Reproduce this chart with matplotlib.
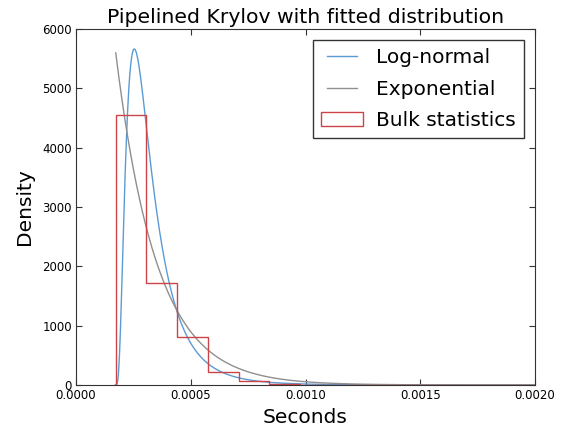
import numpy as np
import matplotlib
matplotlib.use("Agg")
import matplotlib.pyplot as plt

# histogram of iteration times (density), fixed-width bins
bin_start = 0.000173
bin_width = 0.000134
bin_density = [4551, 1714, 814, 224, 72, 17, 5, 5, 3, 0, 3, 0, 1, 3]

# fitted distribution parameters (scipy-style shape, loc, scale)
lognorm_s = 0.67
lognorm_loc = 0.00017
lognorm_scale = 0.0001316
expon_loc = 0.000173
expon_scale = 0.0001786

blue = "#5b9bd5"
grey = "#8f8f8f"
red = "#cc4348"

edges = bin_start + bin_width * np.arange(len(bin_density) + 1)

x = np.linspace(0.0, 0.002, 2000)
u = np.clip(x - lognorm_loc, 1e-12, None)
pdf_lognorm = np.where(
    x > lognorm_loc,
    np.exp(-np.log(u / lognorm_scale) ** 2 / (2 * lognorm_s ** 2)) / (lognorm_s * u * np.sqrt(2 * np.pi)),
    np.nan,
)
xe = x[x >= expon_loc]
pdf_expon = np.exp(-(xe - expon_loc) / expon_scale) / expon_scale

fig = plt.figure(figsize=(5.64, 4.32), dpi=100)
ax = fig.add_axes([0.1348, 0.1088, 0.8138, 0.8241])

ax.plot(x, pdf_lognorm, color=blue, lw=1.0, label="Log-normal")
ax.plot(xe, pdf_expon, color=grey, lw=1.0, label="Exponential")
ax.hist(edges[:-1], bins=edges, weights=bin_density, histtype="step",
        color=red, lw=1.0, label="Bulk statistics")

ax.set_xlim(0, 0.002)
ax.set_ylim(0, 6000)
ax.set_xticks([0.0, 0.0005, 0.001, 0.0015, 0.002])
ax.set_xticklabels(["0.0000", "0.0005", "0.0010", "0.0015", "0.0020"])
ax.set_yticks(range(0, 6001, 1000))
ax.tick_params(direction="in", top=True, right=True, labelsize=8.5, length=4,
               color="#333333", pad=3)
for s in ax.spines.values():
    s.set_color("#333333")

ax.set_title("Pipelined Krylov with fitted distribution", fontsize=14.7, pad=4)
ax.set_xlabel("Seconds", fontsize=14.5, labelpad=4)
ax.set_ylabel("Density", fontsize=14.5, labelpad=6)

leg = ax.legend(loc="upper right", fontsize=14.5, fancybox=False, numpoints=2,
                handlelength=2.1, handletextpad=0.65, borderpad=0.4,
                labelspacing=0.62, borderaxespad=0.55, frameon=True)
leg.get_frame().set_edgecolor("black")
leg.get_frame().set_linewidth(1.0)

fig.savefig("out.png", dpi=100)
